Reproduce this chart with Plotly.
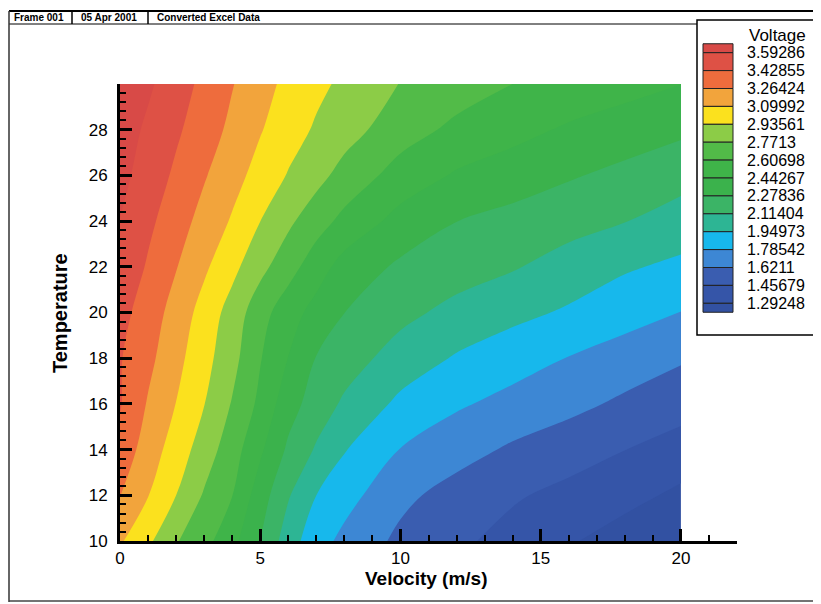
import plotly.graph_objects as go

# ---------------- data ----------------
velocity = [0, 1, 2, 3, 4, 5, 6, 7, 8, 10, 12, 14, 16, 18, 20]          # m/s
temperature = [10, 12, 14, 16, 18, 20, 22, 24, 26, 28, 30]

voltage_T10 = [3.120, 2.968, 2.784, 2.662, 2.493, 2.280, 2.026, 1.852, 1.743, 1.584, 1.489, 1.401, 1.310, 1.216, 1.128]
voltage_T12 = [3.270, 3.105, 2.936, 2.755, 2.610, 2.358, 2.129, 1.950, 1.847, 1.662, 1.556, 1.476, 1.411, 1.345, 1.258]
voltage_T14 = [3.377, 3.183, 3.026, 2.857, 2.681, 2.471, 2.250, 2.096, 1.960, 1.781, 1.687, 1.596, 1.528, 1.459, 1.390]
voltage_T16 = [3.440, 3.250, 3.097, 2.940, 2.760, 2.569, 2.346, 2.203, 2.088, 1.913, 1.807, 1.735, 1.667, 1.591, 1.520]
voltage_T18 = [3.440, 3.307, 3.149, 2.992, 2.825, 2.617, 2.440, 2.272, 2.190, 2.043, 1.934, 1.854, 1.780, 1.710, 1.640]
voltage_T20 = [3.483, 3.350, 3.200, 3.038, 2.869, 2.671, 2.514, 2.385, 2.280, 2.159, 2.065, 1.995, 1.928, 1.853, 1.783]
voltage_T22 = [3.550, 3.411, 3.272, 3.128, 2.982, 2.819, 2.672, 2.519, 2.379, 2.250, 2.189, 2.128, 2.048, 1.969, 1.915]
voltage_T24 = [3.589, 3.464, 3.339, 3.207, 3.084, 2.937, 2.804, 2.676, 2.563, 2.385, 2.280, 2.226, 2.172, 2.119, 2.044]
voltage_T26 = [3.640, 3.520, 3.400, 3.279, 3.158, 3.042, 2.925, 2.826, 2.712, 2.541, 2.424, 2.360, 2.295, 2.236, 2.172]
voltage_T28 = [3.674, 3.564, 3.454, 3.344, 3.227, 3.111, 3.008, 2.915, 2.839, 2.679, 2.570, 2.495, 2.421, 2.365, 2.310]
voltage_T30 = [3.757, 3.619, 3.504, 3.388, 3.273, 3.157, 3.061, 2.975, 2.903, 2.766, 2.684, 2.607, 2.554, 2.500, 2.445]

voltage = [voltage_T10, voltage_T12, voltage_T14, voltage_T16, voltage_T18, voltage_T20,
           voltage_T22, voltage_T24, voltage_T26, voltage_T28, voltage_T30]

levels = [1.29248, 1.45679, 1.6211, 1.78542, 1.94973, 2.11404, 2.27836, 2.44267,
          2.60698, 2.7713, 2.93561, 3.09992, 3.26424, 3.42855, 3.59286]
level_labels = ["1.29248", "1.45679", "1.6211", "1.78542", "1.94973", "2.11404", "2.27836", "2.44267",
                "2.60698", "2.7713", "2.93561", "3.09992", "3.26424", "3.42855", "3.59286"]

# one colour per band, lowest band first (16 bands)
band_colors = ["#3251a2", "#3555a8", "#3a5db0", "#3d87d4", "#17b8ec", "#2db594",
               "#3bb466", "#3bb24c", "#3fb449", "#52bb48", "#8ccc47", "#fbe11e",
               "#f2a43c", "#ee6c3d", "#de5145", "#d84a47"]

x_ticks_major = 5
y_ticks_major = 2

# ---------------- figure ----------------
# the page adds an 8 px body margin: work in screen pixels and shift by it
OFF = 8
W, H = 821 - OFF, 604 - OFF
L, R, T, B = 120 - OFF, 737 - OFF, 84 - OFF, 541 - OFF


def px(x):
    return (x - OFF - L) / (R - L)


def py(y):
    return (B - (y - OFF)) / (B - T)


nb = len(band_colors)
cs = []
for i, c in enumerate(band_colors):
    lo = max(0.0, (i - 0.5) / (nb - 1))
    hi = min(1.0, (i + 0.5) / (nb - 1))
    cs.append([lo, c])
    cs.append([hi, c])

step = (levels[-1] - levels[0]) / (len(levels) - 1)

fig = go.Figure(go.Contour(
    x=velocity, y=temperature, z=voltage,
    contours=dict(start=levels[0], end=levels[-1] + step * 0.01, size=step,
                  coloring="fill", showlines=False),
    colorscale=cs, showscale=False, line=dict(width=0), hoverinfo="skip",
))

FONT = "Liberation Sans, Arial, sans-serif"

fig.update_layout(
    width=W, height=H,
    margin=dict(l=L, r=W - R, t=T, b=H - B, autoexpand=False),
    paper_bgcolor="white", plot_bgcolor="white",
    font=dict(family=FONT, color="black"),
    xaxis=dict(range=[0, 22], showline=True, linecolor="black", linewidth=3,
               ticks="inside", ticklen=12, tickwidth=3, tickcolor="black",
               tickmode="linear", tick0=0, dtick=x_ticks_major,
               minor=dict(ticks="inside", dtick=1, ticklen=6, tickwidth=1.5, tickcolor="black"),
               showgrid=False, zeroline=False, mirror=False,
               tickfont=dict(size=17, family=FONT)),
    yaxis=dict(range=[10, 29.995], showline=True, linecolor="black", linewidth=3,
               ticks="inside", ticklen=12, tickwidth=3, tickcolor="black",
               tickmode="linear", tick0=10, dtick=y_ticks_major,
               minor=dict(ticks="inside", dtick=0.4, ticklen=6, tickwidth=1.5, tickcolor="black"),
               showgrid=False, zeroline=False, mirror=False,
               ticklabelstandoff=6,
               tickfont=dict(size=17, family=FONT)),
)

shapes = []
annotations = []

# axis titles
annotations.append(dict(text="Velocity (m/s)", xref="paper", yref="paper", x=px(426), y=py(578),
                        xanchor="center", yanchor="middle", showarrow=False,
                        font=dict(size=19, family=FONT, weight="bold", color="black")))
annotations.append(dict(text="Temperature", xref="paper", yref="paper", x=px(60), y=py(313),
                        xanchor="center", yanchor="middle", showarrow=False, textangle=-90,
                        font=dict(size=20, family=FONT, weight="bold", color="black")))

# page frame / header
shapes.append(dict(type="line", xref="paper", yref="paper", x0=px(9), x1=px(821), y0=py(11), y1=py(11),
                   line=dict(color="black", width=2)))
shapes.append(dict(type="line", xref="paper", yref="paper", x0=px(9), x1=px(821), y0=py(24), y1=py(24),
                   line=dict(color="black", width=1)))
shapes.append(dict(type="line", xref="paper", yref="paper", x0=px(9), x1=px(9), y0=py(11), y1=py(602),
                   line=dict(color="#333333", width=1.5)))
shapes.append(dict(type="line", xref="paper", yref="paper", x0=px(9), x1=px(821), y0=py(601), y1=py(601),
                   line=dict(color="#444444", width=1.5)))
for xd in (72, 148):
    shapes.append(dict(type="line", xref="paper", yref="paper", x0=px(xd), x1=px(xd), y0=py(11), y1=py(24),
                       line=dict(color="black", width=1.5)))
for txt, xl in (("Frame 001", 12), ("05 Apr 2001", 79), ("Converted Excel Data", 155)):
    annotations.append(dict(text=txt, xref="paper", yref="paper", x=px(xl), y=py(18),
                            xanchor="left", yanchor="middle", showarrow=False,
                            font=dict(size=10, family=FONT, weight="bold", color="black")))

# legend box
shapes.append(dict(type="rect", xref="paper", yref="paper", x0=px(697), x1=px(819), y0=py(20), y1=py(335),
                   line=dict(color="black", width=1.5), fillcolor="white", layer="above"))
annotations.append(dict(text="Voltage", xref="paper", yref="paper", x=px(777), y=py(35),
                        xanchor="center", yanchor="middle", showarrow=False,
                        font=dict(size=17, family=FONT, color="black")))

sw_x0, sw_x1 = 703, 733
b0, db = 52.7, 17.9
half = db / 2
bounds = [b0 + j * db for j in range(len(levels))]
edges = [bounds[0] - half] + bounds + [bounds[-1] + half]
for k in range(len(edges) - 1):
    color = band_colors[nb - 1 - k]
    shapes.append(dict(type="rect", xref="paper", yref="paper",
                       x0=px(sw_x0), x1=px(sw_x1), y0=py(edges[k]), y1=py(edges[k + 1]),
                       line=dict(color="#222222", width=1), fillcolor=color, layer="above"))
for j, lab in enumerate(reversed(level_labels)):
    annotations.append(dict(text=lab, xref="paper", yref="paper", x=px(745), y=py(bounds[j]),
                            xanchor="left", yanchor="middle", showarrow=False,
                            font=dict(size=16, family=FONT, color="black")))

fig.update_layout(shapes=shapes, annotations=annotations)

fig.write_html("out.html")
